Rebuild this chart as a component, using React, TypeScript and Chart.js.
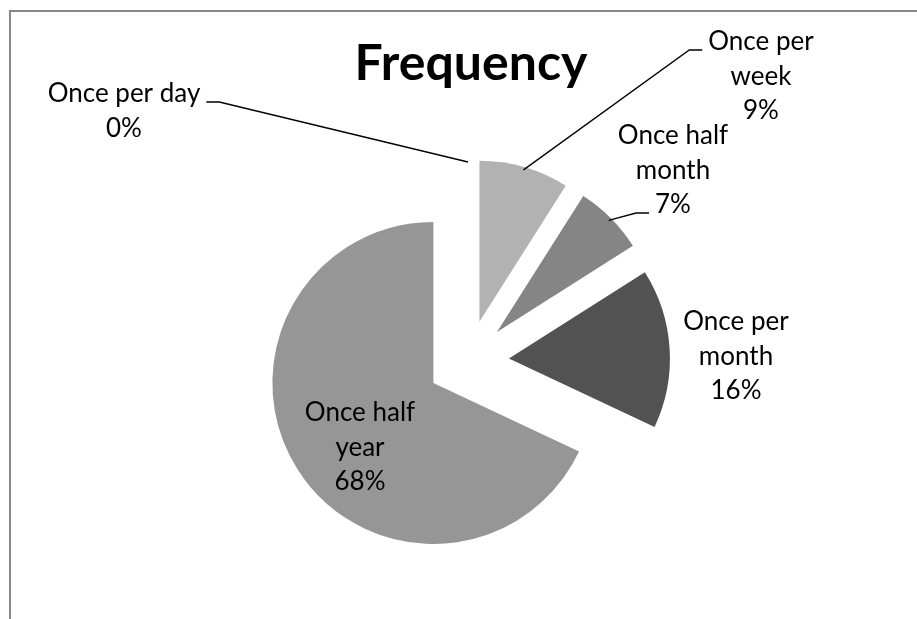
import React, { useEffect, useRef } from 'react';
import { Chart, registerables } from 'chart.js';

Chart.register(...registerables);

// ---- data ----
const categories = ['Once per day', 'Once per week', 'Once half month', 'Once per month', 'Once half year'];
const shares = [0, 9, 7, 16, 68];
const sliceColors = ['#a6a6a6', '#b2b2b2', '#858585', '#525252', '#969696'];
const chartTitle = 'Frequency';

// ---- layout ----
const W = 917;
const H = 619;
const CENTER_X = 468;
const CENTER_Y = 361;
const RADIUS = 161;
const EXPLODE = 41;
const FONT = 'Lato, "Open Sans", "Noto Sans", sans-serif';
const LABEL_SIZE = 26;
const LINE_H = 34.5;
const TITLE_SIZE = 50;

type Leader = { line: number; side: 'left' | 'right' };
type LabelSpot = { x: number; baseline: number; maxWidth: number; leader?: Leader };

// x = centre of the text block, baseline = baseline of its first line
const labelSpots: LabelSpot[] = [
  { x: 124, baseline: 102, maxWidth: 220, leader: { line: 0, side: 'right' } },
  { x: 761, baseline: 50, maxWidth: 125, leader: { line: 0, side: 'left' } },
  { x: 673, baseline: 144, maxWidth: 125, leader: { line: 2, side: 'left' } },
  { x: 736, baseline: 330, maxWidth: 125 },
  { x: 360, baseline: 421, maxWidth: 125 },
];

function wrapWords(ctx: CanvasRenderingContext2D, text: string, maxWidth: number): string[] {
  const words = text.split(' ');
  const lines: string[] = [];
  let cur = '';
  for (const w of words) {
    const t = cur ? cur + ' ' + w : w;
    if (cur && ctx.measureText(t).width > maxWidth) {
      lines.push(cur);
      cur = w;
    } else {
      cur = t;
    }
  }
  if (cur) lines.push(cur);
  return lines;
}

// gray outline of the chart box
const framePlugin = {
  id: 'chartFrame',
  beforeDraw(chart: any) {
    const ctx = chart.ctx as CanvasRenderingContext2D;
    ctx.save();
    ctx.strokeStyle = '#878787';
    ctx.lineWidth = 2;
    ctx.strokeRect(10, 11, W + 50, H + 50);
    ctx.restore();
  },
};

// pull every slice outwards along its bisector
const explodePlugin = {
  id: 'explodeSlices',
  beforeDatasetDraw(chart: any, args: any) {
    const ctx = chart.ctx as CanvasRenderingContext2D;
    args.meta.data.forEach((arc: any) => {
      const { startAngle, endAngle } = arc.getProps(['startAngle', 'endAngle'], true);
      const mid = (startAngle + endAngle) / 2;
      ctx.save();
      ctx.translate(Math.cos(mid) * EXPLODE, Math.sin(mid) * EXPLODE);
      arc.draw(ctx, chart.chartArea);
      ctx.restore();
    });
    return false;
  },
};

// title, category / percentage labels and leader lines
const labelPlugin = {
  id: 'sliceLabels',
  afterDatasetsDraw(chart: any) {
    const ctx = chart.ctx as CanvasRenderingContext2D;
    const meta = chart.getDatasetMeta(0);
    const total = shares.reduce((a, b) => a + b, 0);
    ctx.save();
    ctx.fillStyle = '#000';
    ctx.textAlign = 'center';
    ctx.textBaseline = 'alphabetic';

    ctx.font = `bold ${TITLE_SIZE}px ${FONT}`;
    ctx.fillText(chartTitle, 471, 80);

    ctx.font = `${LABEL_SIZE}px ${FONT}`;
    ctx.strokeStyle = '#000';
    ctx.lineWidth = 1.3;
    meta.data.forEach((arc: any, i: number) => {
      const spot = labelSpots[i];
      const lines = wrapWords(ctx, categories[i], spot.maxWidth);
      lines.push(Math.round((shares[i] / total) * 100) + '%');
      lines.forEach((s, k) => ctx.fillText(s, spot.x, spot.baseline + k * LINE_H));
      if (spot.leader) {
        const { x, y, startAngle, endAngle, outerRadius } = arc.getProps(
          ['x', 'y', 'startAngle', 'endAngle', 'outerRadius'],
          true
        );
        const mid = (startAngle + endAngle) / 2;
        const cx = x + Math.cos(mid) * EXPLODE;
        const cy = y + Math.sin(mid) * EXPLODE;
        const tx = cx + Math.cos(mid) * (outerRadius - 3);
        const ty = cy + Math.sin(mid) * (outerRadius - 3);
        const txt = lines[spot.leader.line];
        const w = ctx.measureText(txt).width;
        const ly = spot.baseline + spot.leader.line * LINE_H;
        const dir = spot.leader.side === 'right' ? 1 : -1;
        const sx = spot.x + dir * (w / 2 + 6);
        const ex = sx + dir * 13;
        ctx.beginPath();
        ctx.moveTo(sx, ly);
        ctx.lineTo(ex, ly);
        ctx.lineTo(tx, ty);
        ctx.stroke();
      }
    });
    ctx.restore();
  },
};

export default function App() {
  const canvasRef = useRef<HTMLCanvasElement | null>(null);

  useEffect(() => {
    const canvas = canvasRef.current;
    if (!canvas) return;
    const chart = new Chart(canvas, {
      type: 'pie',
      data: {
        labels: categories,
        datasets: [
          {
            data: shares,
            backgroundColor: sliceColors,
            borderWidth: 0,
          },
        ],
      },
      options: {
        responsive: false,
        animation: false,
        radius: RADIUS,
        layout: {
          padding: {
            left: Math.max(0, 2 * CENTER_X - W),
            right: Math.max(0, W - 2 * CENTER_X),
            top: Math.max(0, 2 * CENTER_Y - H),
            bottom: Math.max(0, H - 2 * CENTER_Y),
          },
        },
        plugins: {
          legend: { display: false },
          tooltip: { enabled: false },
          title: { display: false },
        },
      } as any,
      plugins: [framePlugin, explodePlugin, labelPlugin],
    });
    return () => chart.destroy();
  }, []);

  return (
    <div style={{ position: 'absolute', left: 0, top: 0, width: W, height: H, background: '#fff' }}>
      <canvas ref={canvasRef} width={W} height={H} style={{ display: 'block' }} />
    </div>
  );
}
